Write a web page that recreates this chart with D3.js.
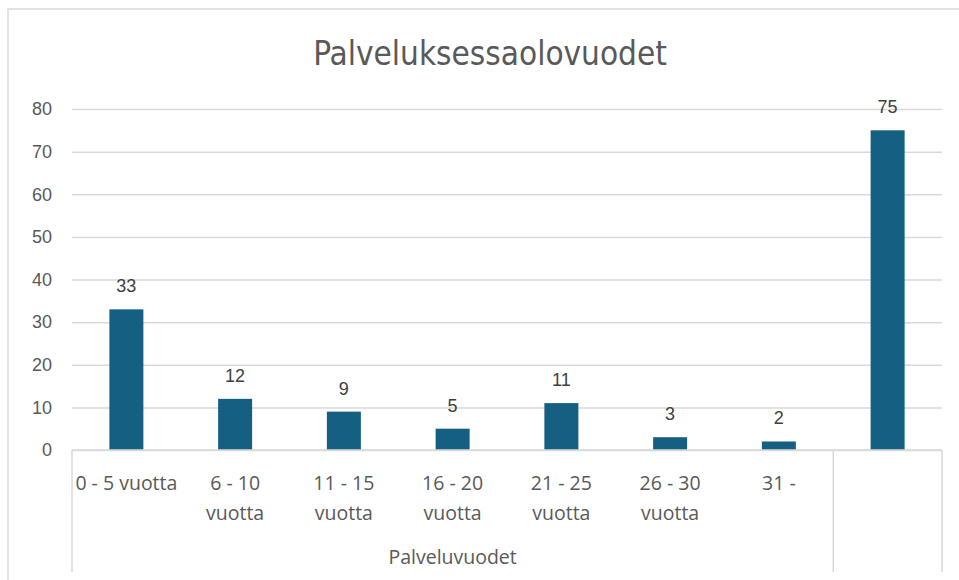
<!DOCTYPE html>
<html>
<head>
<meta charset="utf-8">
<script src="https://cdn.jsdelivr.net/npm/d3@7"></script>
<style>
  body { margin: 0; background: #fff; }
  svg { display: block; font-family: "Liberation Sans", Arial, sans-serif; }
</style>
</head>
<body>
<div id="chart"></div>
<script>
// data
var categories = ["0 - 5 vuotta", "6 - 10 vuotta", "11 - 15 vuotta", "16 - 20 vuotta",
                  "21 - 25 vuotta", "26 - 30 vuotta", "31 -", ""];
var values = [33, 12, 9, 5, 11, 3, 2, 75];
var groupName = "Palveluvuodet";
var groupSize = 7;   // first 7 categories belong to the group
var yTicks = [0, 10, 20, 30, 40, 50, 60, 70, 80];
var title = "Palveluksessaolovuodet";

var width = 959, height = 580;
var margin = {top: 109, right: 17, bottom: 130, left: 72};

var svg = d3.select("#chart").append("svg")
    .attr("width", width)
    .attr("height", height);

// chart area border
svg.append("rect")
    .attr("x", 8).attr("y", 9)
    .attr("width", width).attr("height", height)
    .attr("fill", "none")
    .attr("stroke", "#d9d9d9")
    .attr("stroke-width", 1.5);

svg.append("text")
    .attr("x", 490).attr("y", 65)
    .attr("text-anchor", "middle")
    .attr("font-family", "'Liberation Sans Narrow', 'DejaVu Sans Condensed', sans-serif")
    .attr("font-size", 33)
    .attr("fill", "#595959")
    .text(title);

var x = d3.scaleBand()
    .domain(d3.range(categories.length))
    .range([margin.left, width - margin.right]);

var y = d3.scaleLinear()
    .domain([0, 80])
    .range([height - margin.bottom, margin.top]);

// gridlines + y labels
var yAxis = svg.append("g")
    .attr("transform", "translate(" + margin.left + ",0)")
    .call(d3.axisLeft(y).tickValues(yTicks).tickSize(-(width - margin.right - margin.left)).tickPadding(20));
yAxis.select(".domain").remove();
yAxis.selectAll(".tick line").attr("stroke", "#d9d9d9").attr("stroke-width", 1.5);
yAxis.selectAll(".tick text")
    .attr("fill", "#595959")
    .attr("font-size", 18)
    .attr("font-family", "'Liberation Sans', Arial, sans-serif");

// bars
var bw = 34;
svg.selectAll("rect.bar")
    .data(values)
    .enter()
    .append("rect")
    .attr("class", "bar")
    .attr("x", function(d, i) { return x(i) + x.bandwidth() / 2 - bw / 2; })
    .attr("y", function(d) { return y(d); })
    .attr("width", bw)
    .attr("height", function(d) { return y(0) - y(d); })
    .attr("fill", "#156082");

svg.selectAll("text.val")
    .data(values)
    .enter()
    .append("text")
    .attr("class", "val")
    .attr("x", function(d, i) { return x(i) + x.bandwidth() / 2; })
    .attr("y", function(d) { return y(d) - 17; })
    .attr("text-anchor", "middle")
    .attr("font-size", 18)
    .attr("fill", "#404040")
    .text(function(d) { return d; });

// x axis line + dividers
var axisY = y(0);
var bottom = 572;
svg.append("line")
    .attr("x1", margin.left).attr("x2", width - margin.right)
    .attr("y1", axisY).attr("y2", axisY)
    .attr("stroke", "#d9d9d9").attr("stroke-width", 1.5);

var dividers = [x(0), x(groupSize), x(categories.length - 1) + x.bandwidth()];
svg.selectAll("line.div")
    .data(dividers)
    .enter()
    .append("line")
    .attr("class", "div")
    .attr("x1", function(d) { return d; }).attr("x2", function(d) { return d; })
    .attr("y1", axisY).attr("y2", bottom)
    .attr("stroke", "#d9d9d9").attr("stroke-width", 1.5);

// category labels, wrapped when wider than the band
var catFont = "'Open Sans', sans-serif";
var catSize = 19.5;
var catLabels = svg.selectAll("text.cat")
    .data(categories)
    .enter()
    .append("text")
    .attr("class", "cat")
    .attr("x", function(d, i) { return x(i) + x.bandwidth() / 2; })
    .attr("y", axisY + 40)
    .attr("text-anchor", "middle")
    .attr("font-family", catFont)
    .attr("font-size", catSize)
    .attr("fill", "#595959")
    .text(function(d) { return d; });

catLabels.each(function(d) {
    var t = d3.select(this);
    if (this.getComputedTextLength() > x.bandwidth() - 2) {
        var cut = d.lastIndexOf(" ");
        var cx = t.attr("x");
        t.text(null);
        t.append("tspan").attr("x", cx).text(d.slice(0, cut));
        t.append("tspan").attr("x", cx).attr("dy", 30).text(d.slice(cut + 1));
    }
});

svg.append("text")
    .attr("x", (x(0) + x(groupSize)) / 2)
    .attr("y", axisY + 114)
    .attr("text-anchor", "middle")
    .attr("font-family", catFont)
    .attr("font-size", catSize)
    .attr("fill", "#595959")
    .text(groupName);
</script>
</body>
</html>
